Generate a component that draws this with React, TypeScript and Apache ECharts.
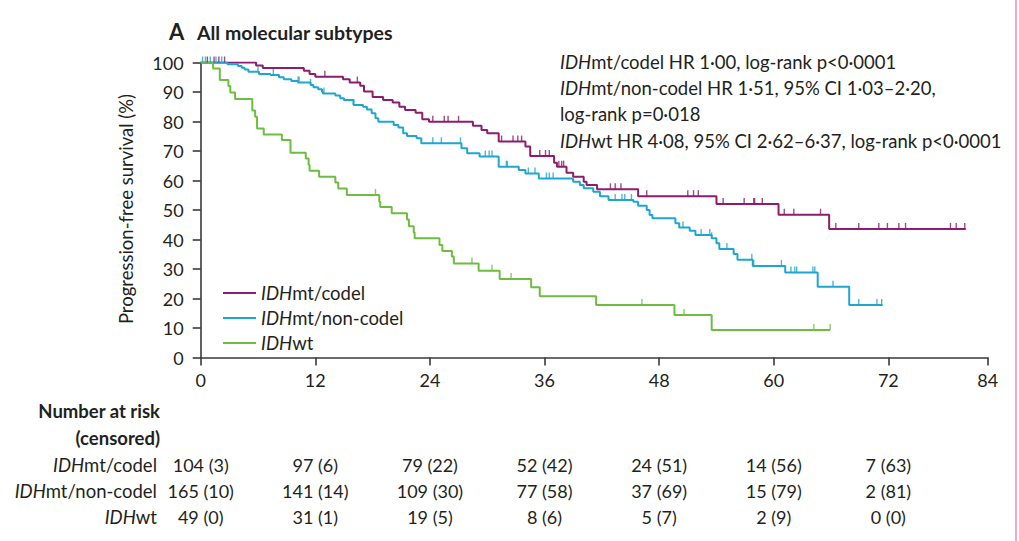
import React, { useEffect, useRef } from 'react';
import * as echarts from 'echarts';

const FONT = 'Lato, "Open Sans", sans-serif';
const TEXT = '#231f20';
const AXIS = '#3a3a3a';
const C_CODEL = '#8c1c6e';
const C_NON = '#1ea6d0';
const C_WT = '#6dbd3f';

const seriesNames = ['IDHmt/codel', 'IDHmt/non-codel', 'IDHwt'];

// x axis ticks (months); the last tick of the original figure is drawn compressed
const xTicks = [0, 12, 24, 36, 48, 60, 72];
const xEnd = 82.4;
const xEndLabel = '84';
const yTicksInterval = 10;

// Kaplan–Meier steps: [month, survival % from that month on]
const codelSteps: [number, number][] = [
  [0, 100], [5.8, 99.0], [6.5, 98.1], [10.8, 97.2], [11.4, 96.1], [12.0, 95.2], [14.9, 94.3],
  [15.6, 93.2], [16.7, 92.1], [17.1, 90.2], [18.0, 88.3], [19.1, 87.3], [20.1, 86.4], [20.8, 85.0],
  [21.4, 83.9], [22.5, 83.0], [23.2, 80.8], [23.9, 79.9], [28.5, 78.6], [29.4, 77.1], [30.0, 76.0],
  [31.2, 73.2], [34.0, 71.5], [34.5, 68.3], [37.0, 66.0], [37.3, 64.7], [38.3, 62.6], [39.0, 61.3],
  [40.1, 59.6], [40.4, 58.5], [41.5, 57.0], [45.8, 54.7], [54.0, 52.0], [60.5, 48.4], [65.8, 43.6],
  [80.1, 43.6],
];
const codelCensor = [
  0.7, 1.4, 1.9, 2.5, 13.0, 16.4, 24.3, 25.5, 25.9, 27.0, 31.5, 32.7, 33.2, 33.6, 35.5, 36.1, 36.5,
  37.5, 37.8, 38.0, 42.9, 43.4, 44.0, 46.7, 51.0, 51.6, 52.1, 54.7, 56.9, 57.9, 58.0, 58.8, 61.1,
  62.1, 64.9, 66.5, 68.9, 71.0, 71.9, 73.1, 73.8, 78.5, 79.1, 80.0,
];

const nonCodelSteps: [number, number][] = [
  [0, 100], [2.8, 99.4], [3.9, 98.8], [4.3, 98.2], [4.6, 97.6], [5.0, 96.9], [6.1, 96.1], [7.3, 95.8],
  [8.2, 95.0], [8.7, 94.3], [9.5, 93.7], [10.2, 93.2], [11.5, 92.4], [11.8, 91.6], [12.3, 90.9],
  [12.7, 90.1], [12.8, 89.5], [14.1, 88.8], [14.6, 87.9], [15.0, 87.3], [16.0, 85.6], [17.0, 85.0],
  [17.4, 84.1], [17.9, 82.8], [18.3, 81.1], [18.6, 79.9], [20.2, 78.8], [20.7, 78.0], [21.2, 76.0],
  [21.6, 75.1], [22.6, 74.3], [23.1, 72.6], [27.3, 70.9], [27.9, 69.2], [29.2, 68.1], [31.2, 64.7],
  [33.3, 63.6], [34.0, 62.4], [35.4, 60.7], [39.0, 59.6], [39.7, 58.5], [40.1, 57.4], [41.1, 56.2],
  [41.8, 54.7], [42.7, 53.4], [45.3, 52.8], [45.8, 51.4], [46.7, 50.0], [47.0, 48.3], [47.3, 47.2],
  [49.7, 45.5], [50.1, 44.1], [51.2, 43.0], [51.8, 41.5], [53.5, 40.4], [54.0, 38.7], [54.3, 36.8],
  [55.8, 35.1], [56.2, 33.1], [57.8, 31.0], [61.2, 28.8], [64.6, 24.0], [67.9, 17.8], [71.4, 17.8],
];
const nonCodelCensor = [
  0.2, 0.5, 1.0, 1.6, 2.2, 6.0, 7.6, 10.2, 10.3, 11.5, 12.9, 16.0, 24.3, 25.2, 27.2, 29.8, 30.2, 30.5,
  32.0, 32.1, 34.3, 35.0, 36.2, 36.5, 36.9, 43.4, 44.1, 44.4, 45.1, 50.5, 52.4, 53.3, 53.5, 55.1,
  57.7, 57.9, 60.8, 61.8, 62.2, 62.4, 64.1, 64.3, 66.2, 68.9, 70.8, 71.3,
];

const wtSteps: [number, number][] = [
  [0, 100], [1.3, 98.0], [2.0, 94.1], [2.9, 92.0], [3.1, 89.8], [3.6, 87.6], [5.4, 83.7], [5.7, 81.6],
  [5.9, 77.6], [6.6, 75.6], [8.5, 73.7], [9.4, 69.4], [11.0, 67.5], [11.3, 65.3], [11.4, 63.3],
  [12.4, 61.3], [14.1, 59.3], [14.4, 57.3], [15.3, 55.1], [18.7, 52.8], [18.8, 51.0], [20.0, 48.9],
  [21.6, 46.8], [21.8, 44.5], [22.3, 42.4], [22.4, 40.4], [25.0, 38.1], [25.3, 36.1], [26.3, 34.2],
  [26.5, 31.9], [29.1, 29.4], [31.3, 26.6], [34.6, 23.8], [35.5, 20.8], [41.4, 17.8], [49.6, 14.4],
  [53.5, 9.3], [65.9, 9.3],
];
const wtCensor = [18.3, 28.4, 30.5, 32.5, 46.2, 50.6, 64.2, 65.9];

// Number at risk (censored)
const riskTimes = [0, 12, 24, 36, 48, 60, 72];
const codelAtRisk = [104, 97, 79, 52, 24, 14, 7];
const codelCens = [3, 6, 22, 42, 51, 56, 63];
const nonCodelAtRisk = [165, 141, 109, 77, 37, 15, 2];
const nonCodelCens = [10, 14, 30, 58, 69, 79, 81];
const wtAtRisk = [49, 31, 19, 8, 5, 2, 0];
const wtCens = [0, 1, 5, 6, 7, 9, 0];

const annotationLines = [
  '{i|IDH}{n|mt/codel HR 1·00, log-rank p<0·0001}',
  '{i|IDH}{n|mt/non-codel HR 1·51, 95% CI 1·03–2·20,}',
  '{n|log-rank p=0·018}',
  '{i|IDH}{n|wt HR 4·08, 95% CI 2·62–6·37, log-rank p<0·0001}',
];

function levelAt(steps: [number, number][], t: number) {
  let v = steps[0][1];
  for (const [x, y] of steps) {
    if (x <= t) v = y;
    else break;
  }
  return v;
}

const FS = 18.5;
const FS_NUM = 18;
const FS_AXIS = 18;
const rich = {
  i: { fontStyle: 'italic', fontSize: FS, fontFamily: FONT, fill: TEXT, color: TEXT },
  n: { fontSize: FS, fontFamily: FONT, fill: TEXT, color: TEXT },
};

export default function App() {
  const ref = useRef<HTMLDivElement>(null);
  useEffect(() => {
    if (!ref.current) return;
    const chart = echarts.init(ref.current, undefined, { renderer: 'svg' });
    const lineSeries = (name: string, steps: [number, number][], color: string) => ({
      name,
      type: 'line',
      step: 'end',
      data: steps,
      symbol: 'none',
      color,
      lineStyle: { color, width: 2 },
      silent: true,
      z: 3,
    });
    const censorSeries = (name: string, steps: [number, number][], times: number[], color: string) => ({
      name,
      type: 'scatter',
      data: times.map((t) => [t, levelAt(steps, t)]),
      symbol: 'rect',
      symbolSize: [1.4, 6],
      symbolOffset: [0, -3],
      itemStyle: { color },
      silent: true,
      z: 4,
    });
    const axisText = { fontSize: FS_AXIS, fontFamily: FONT, color: TEXT };
    chart.setOption({
      animation: false,
      grid: { left: 200.7, right: 31.3, top: 62.5, bottom: 183.5, containLabel: false },
      xAxis: {
        type: 'value',
        min: 0,
        max: xEnd,
        axisLine: { show: true, lineStyle: { color: AXIS, width: 1.6 } },
        axisTick: { show: true, length: 8, lineStyle: { color: AXIS, width: 1.6 }, customValues: [...xTicks, xEnd] },
        axisLabel: {
          ...axisText,
          margin: 13,
          customValues: [...xTicks, xEnd],
          formatter: (v: number) => (v > 80 ? xEndLabel : String(v)),
        },
        splitLine: { show: false },
      },
      yAxis: {
        type: 'value',
        min: 0,
        max: 100,
        interval: yTicksInterval,
        axisLine: { show: true, lineStyle: { color: AXIS, width: 1.6 } },
        axisTick: { show: true, length: 8, lineStyle: { color: AXIS, width: 1.6 } },
        axisLabel: { ...axisText, margin: 17 },
        splitLine: { show: false },
      },
      legend: {
        data: seriesNames,
        orient: 'vertical',
        left: 218,
        top: 278,
        itemWidth: 33,
        itemHeight: 2,
        itemGap: 5,
        icon: 'rect',
        selectedMode: false,
        formatter: (n: string) => `{i|IDH}{n|${n.slice(3)}}`,
        textStyle: {
          fontSize: FS,
          fontFamily: FONT,
          color: TEXT,
          lineHeight: 20,
          rich: {
            i: { fontStyle: 'italic', fontSize: FS, fontFamily: FONT, color: TEXT, lineHeight: 20 },
            n: { fontSize: FS, fontFamily: FONT, color: TEXT, lineHeight: 20 },
          },
        },
      },
      series: [
        lineSeries(seriesNames[0], codelSteps, C_CODEL),
        lineSeries(seriesNames[1], nonCodelSteps, C_NON),
        lineSeries(seriesNames[2], wtSteps, C_WT),
        censorSeries('codel-censored', codelSteps, codelCensor, C_CODEL),
        censorSeries('non-codel-censored', nonCodelSteps, nonCodelCensor, C_NON),
        censorSeries('wt-censored', wtSteps, wtCensor, C_WT),
      ],
    });

    const graphics: any[] = [];
    const txt = (x: number, y: number, text: string, opts: any = {}) => ({
      type: 'text',
      x,
      y,
      silent: true,
      style: {
        text,
        fill: TEXT,
        fontSize: FS,
        fontFamily: FONT,
        align: 'left',
        verticalAlign: 'middle',
        rich,
        ...opts,
      },
    });
    // title
    graphics.push(txt(169, 31, 'A', { fontSize: 22, fontWeight: 'bold' }));
    graphics.push(txt(197, 32, 'All molecular subtypes', { fontSize: 19.5, fontWeight: 'bold' }));
    // y axis name
    graphics.push({
      type: 'text',
      x: 126,
      y: 209,
      rotation: Math.PI / 2,
      silent: true,
      style: {
        text: 'Progression-free survival (%)',
        fill: TEXT,
        fontSize: FS,
        fontFamily: FONT,
        align: 'center',
        verticalAlign: 'middle',
      },
    });
    // annotation
    const annY = [62, 88, 114, 141];
    annotationLines.forEach((l, i) => graphics.push(txt(560, annY[i], l)));
    // risk table
    graphics.push(txt(160, 411, 'Number at risk', { align: 'right', fontWeight: 'bold' }));
    graphics.push(txt(160, 438, '(censored)', { align: 'right', fontWeight: 'bold' }));
    const rows = [
      { label: '{i|IDH}{n|mt/codel}', atRisk: codelAtRisk, cens: codelCens, y: 465 },
      { label: '{i|IDH}{n|mt/non-codel}', atRisk: nonCodelAtRisk, cens: nonCodelCens, y: 491 },
      { label: '{i|IDH}{n|wt}', atRisk: wtAtRisk, cens: wtCens, y: 517 },
    ];
    rows.forEach((r) => {
      graphics.push(txt(157, r.y, r.label, { align: 'right' }));
      riskTimes.forEach((t, j) => {
        const px = chart.convertToPixel({ xAxisIndex: 0 }, t) as number;
        graphics.push(txt(px, r.y, `${r.atRisk[j]} (${r.cens[j]})`, { align: 'center', fontSize: FS_NUM }));
      });
    });
    // page border
    graphics.push({
      type: 'line',
      silent: true,
      shape: { x1: 1016, y1: 0, x2: 1016, y2: 541 },
      style: { stroke: '#e48fbd', lineWidth: 1.5 },
    });
    chart.setOption({ graphic: graphics });

    return () => chart.dispose();
  }, []);
  return (
    <div
      ref={ref}
      style={{ position: 'absolute', left: 0, top: 0, width: 1019, height: 541, background: '#fff' }}
    />
  );
}
